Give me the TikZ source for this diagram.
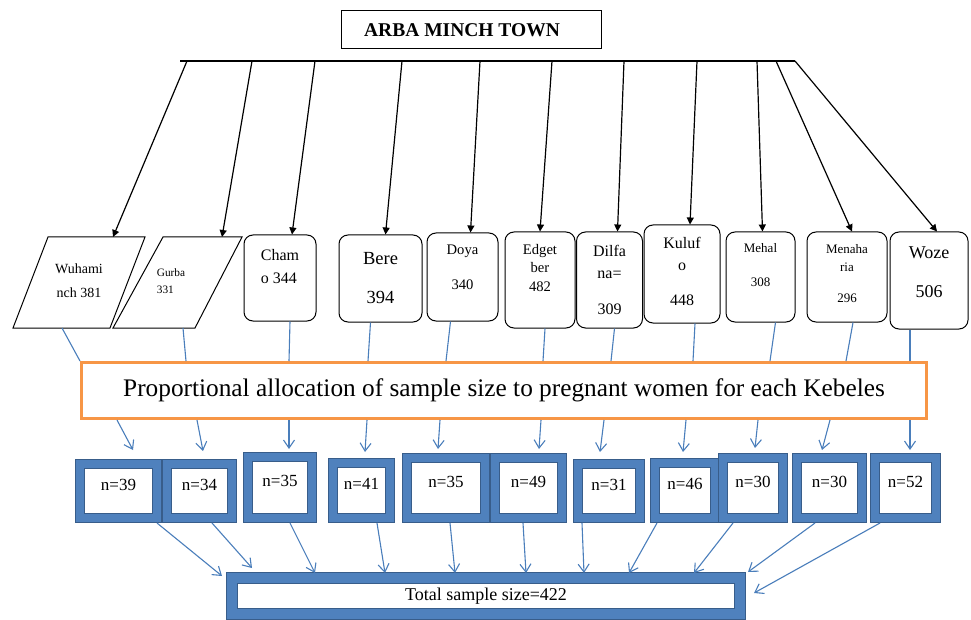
\documentclass[tikz,border=0pt]{standalone}
\usepackage{fontspec}
\setmainfont{Liberation Serif}
\usepackage{tikz}
\usetikzlibrary{positioning, calc, arrows.meta}

\definecolor{kebeleblue}{HTML}{4F81BD}
\definecolor{kebeleedge}{HTML}{385D8A}
\definecolor{linkblue}{HTML}{4A7EBB}
\definecolor{allocorange}{HTML}{F79646}

\begin{document}
\begin{tikzpicture}[
  x=1pt, y=-1pt,
  kebele/.style={
    draw,
    line width=1pt,
    rounded corners=9pt,
    align=center,
    inner sep=2pt,
  },
  slanted/.style={draw, line width=1pt, line join=miter},
  sample/.style={
    draw=kebeleedge,
    line width=1pt,
    double=kebeleblue,
    double distance=8pt,
    fill=white,
    outer sep=5pt,
    font=\fontsize{17}{20}\selectfont,
    text height=12pt,
    text depth=14pt,
  },
  feed/.style={draw=linkblue, line width=1.1pt},
  share/.style={feed, -{Straight Barb[length=8pt,width=11pt]}},
  branch/.style={line width=1.2pt, -{Triangle[length=7pt,width=7pt]}},
]
\useasboundingbox (0,0) rectangle (971,620);

% --- Town ---
\node[draw, line width=1pt, minimum width=260pt, minimum height=38pt,
  font=\fontsize{19.5}{22}\selectfont\bfseries] (Town) at (471,30)
  {ARBA MINCH TOWN\hspace*{18pt}};

% --- Kebeles (slanted) ---
\coordinate (WuhTL) at (48,237);
\coordinate (WuhTR) at (145,237);
\coordinate (WuhBR) at (110,328);
\coordinate (WuhBL) at (13,328);
\draw[slanted] (WuhTL) -- (WuhTR) -- (WuhBR) -- (WuhBL) -- cycle;
\node[align=center, font=\fontsize{14}{24}\selectfont] (Wuhaminch) at (79,281) {Wuhami\\nch 381};

\coordinate (GurTL) at (163,237);
\coordinate (GurTR) at (242,237);
\coordinate (GurBR) at (195,328);
\coordinate (GurBL) at (113,328);
\draw[slanted] (GurTL) -- (GurTR) -- (GurBR) -- (GurBL) -- cycle;
\node[align=left, font=\fontsize{11.3}{17}\selectfont] (Gurba) at (171,281) {Gurba\\331};

% --- Kebeles (rounded) ---
\node[kebele, minimum width=72pt, minimum height=86pt, align=left, text depth=24pt,
  font=\fontsize{16}{23}\selectfont] (Chamo) at (280,278) {Cham\\o 344};
\node[kebele, minimum width=83pt, minimum height=87pt,
  font=\fontsize{18.5}{39}\selectfont] (Bere) at (380.5,278.5) {Bere\\394};
\node[kebele, minimum width=71pt, minimum height=88pt, text depth=19pt,
  font=\fontsize{14.6}{35}\selectfont] (Doya) at (462.5,277) {Doya\\340};
\node[kebele, minimum width=70pt, minimum height=96pt, text depth=25pt,
  font=\fontsize{14.6}{18.5}\selectfont] (Edgetber) at (540,280) {Edget\\ber\\482};
\node[kebele, minimum width=66pt, minimum height=96pt,
  font=\fontsize{16}{22}\selectfont] (Dilfana) at (609.5,280) {Dilfa\\na=\\[14pt]309};
\node[kebele, minimum width=76pt, minimum height=98pt, text depth=5pt,
  font=\fontsize{16}{22}\selectfont] (Kulufo) at (682,274) {Kuluf\\o\\[13pt]448};
\node[kebele, minimum width=69pt, minimum height=90pt, text depth=24pt,
  font=\fontsize{13}{34}\selectfont] (Mehal) at (760.5,277) {Mehal\\308};
\node[kebele, minimum width=80pt, minimum height=90pt, text depth=7pt,
  font=\fontsize{13}{18}\selectfont] (Menaharia) at (847,277) {Menaha\\ria\\[13pt]296};
\node[kebele, minimum width=78pt, minimum height=97pt, text depth=16pt,
  font=\fontsize{18}{39}\selectfont] (Woze) at (929,280.5) {Woze\\506};

% --- Allocation ---
\node[draw=allocorange, line width=3pt, minimum width=845pt, minimum height=56pt,
  font=\fontsize{25.3}{30}\selectfont] (Allocation) at (504,390.5)
  {Proportional allocation of sample size to pregnant women for each Kebeles};

% --- Samples ---
\node[sample, minimum width=77pt, minimum height=54pt] (nWuhaminch) at (118.5,491) {n=39};
\node[sample, minimum width=65pt, minimum height=54pt] (nGurba) at (199.5,491) {n=34};
\node[sample, minimum width=64pt, minimum height=61pt] (nChamo) at (280,487.5) {n=35};
\node[sample, minimum width=57pt, minimum height=55pt] (nBere) at (361.5,490.5) {n=41};
\node[sample, minimum width=78pt, minimum height=60pt] (nDoya) at (446,488) {n=35};
\node[sample, minimum width=67pt, minimum height=60pt] (nEdgetber) at (528.5,488) {n=49};
\node[sample, minimum width=62pt, minimum height=54pt] (nDilfana) at (609,491) {n=31};
\node[sample, minimum width=60pt, minimum height=55pt] (nKulufo) at (685,490.5) {n=46};
\node[sample, minimum width=60pt, minimum height=60pt] (nMehal) at (753,488) {n=30};
\node[sample, minimum width=65pt, minimum height=60pt] (nMenaharia) at (829.5,488) {n=30};
\node[sample, minimum width=61pt, minimum height=60pt] (nWoze) at (905.5,488) {n=52};

% --- Total ---
\node[sample, double distance=10pt, outer sep=6pt, minimum width=508pt, minimum height=36pt,
  font=\fontsize{18}{22}\selectfont, text height=12pt, text depth=4pt] (Total) at (486,596)
  {Total sample size=422};

% Town -> Kebeles
\coordinate (BusStart) at (180,61);
\coordinate (BusEnd) at (795,61);
\coordinate (Tap1) at (187,61);
\coordinate (Tap2) at (252,61);
\coordinate (Tap3) at (315,61);
\coordinate (Tap4) at (402,61);
\coordinate (Tap5) at (480,61);
\coordinate (Tap6) at (552,61);
\coordinate (Tap7) at (624,61);
\coordinate (Tap8) at (697,61);
\coordinate (Tap9) at (757,61);
\coordinate (Tap10) at (776,61);
\coordinate (Tap11) at (795,61);

\draw[line width=1.2pt] (BusStart) -- (BusEnd);
\draw[branch] (Tap1) -- ($(WuhTR)+(-32,0)$);
\draw[branch] (Tap2) -- ($(GurTR)+(-20,0)$);
\draw[branch] (Tap3) -- ($(Chamo.north)+(12,0)$);
\draw[branch] (Tap4) -- ($(Bere.north)+(5,0)$);
\draw[branch] (Tap5) -- ($(Doya.north)+(8,0)$);
\draw[branch] (Tap6) -- (Edgetber.north);
\draw[branch] (Tap7) -- ($(Dilfana.north)+(8,0)$);
\draw[branch] (Tap8) -- ($(Kulufo.north)+(8,0)$);
\draw[branch] (Tap9) -- ($(Mehal.north)+(2,0)$);
\draw[branch] (Tap10) -- ($(Menaharia.north)+(5,0)$);
\draw[branch] (Tap11) -- ($(Woze.north)+(8,0)$);

% Kebeles -> Allocation
\draw[feed] ($(WuhBL)+(49,0)$) -- (Allocation.north west);
\draw[feed] ($(GurBL)+(70,0)$) -- ($(Allocation.north west)+(106,0)$);
\draw[feed] ($(Chamo.south)+(10,0)$) -- ($(Allocation.north west)+(209,0)$);
\draw[feed] ($(Bere.south)+(-10,0)$) -- ($(Allocation.north west)+(288,0)$);
\draw[feed] ($(Doya.south)+(-12,0)$) -- ($(Allocation.north west)+(366,0)$);
\draw[feed] ($(Edgetber.south)+(5,0)$) -- ($(Allocation.north west)+(463,0)$);
\draw[feed] ($(Dilfana.south)+(5,0)$) -- ($(Allocation.north west)+(531,0)$);
\draw[feed] ($(Kulufo.south)+(13,0)$) -- ($(Allocation.north west)+(613,0)$);
\draw[feed] ($(Mehal.south)+(15,0)$) -- ($(Allocation.north west)+(690,0)$);
\draw[feed] ($(Menaharia.south)+(6,0)$) -- ($(Allocation.north west)+(766,0)$);
\draw[feed] ($(Woze.south)+(-19,0)$) -- ($(Allocation.north west)+(830,0)$);

% Allocation -> Samples
\draw[share] ($(Allocation.south west)+(37,0)$) -- ($(nWuhaminch.north)+(14.5,-9)$);
\draw[share] ($(Allocation.south west)+(117,0)$) -- ($(nGurba.north)+(3.5,-8)$);
\draw[share] ($(Allocation.south west)+(209,0)$) -- ($(nChamo.north)+(9,-3)$);
\draw[share] ($(Allocation.south west)+(287,0)$) -- ($(nBere.north)+(3.5,-6)$);
\draw[share] ($(Allocation.south west)+(360,0)$) -- ($(nDoya.north)+(-8,-4)$);
\draw[share] ($(Allocation.south west)+(461,0)$) -- ($(nEdgetber.north)+(10.5,-4)$);
\draw[share] ($(Allocation.south west)+(524,0)$) -- ($(nDilfana.north)+(-9,-7)$);
\draw[share] ($(Allocation.south west)+(606,0)$) -- ($(nKulufo.north)+(-2,-6)$);
\draw[share] ($(Allocation.south west)+(678,0)$) -- ($(nMehal.north)+(2,-5)$);
\draw[share] ($(Allocation.south west)+(750,0)$) -- ($(nMenaharia.north)+(-7.5,-3)$);
\draw[share] ($(Allocation.south west)+(830,0)$) -- ($(nWoze.north)+(4.5,-3)$);

% Samples -> Total
\draw[share] ($(nWuhaminch.south)+(38.5,0)$) -- ($(Total.north west)+(-4,4)$);
\draw[share] ($(nGurba.south)+(12.5,0)$) -- ($(Total.north west)+(26,-4)$);
\draw[share] ($(nChamo.south)+(10,0)$) -- ($(Total.north west)+(89,1)$);
\draw[share] ($(nBere.south)+(15.5,0)$) -- ($(Total.north west)+(159,1)$);
\draw[share] ($(nDoya.south)+(4,0)$) -- ($(Total.north west)+(229,1)$);
\draw[share] ($(nEdgetber.south)+(-5.5,0)$) -- ($(Total.north west)+(300,1)$);
\draw[share] ($(nDilfana.south)+(-27,0)$) -- ($(Total.north west)+(358,1)$);
\draw[share] ($(nKulufo.south)+(-28,0)$) -- ($(Total.north west)+(403,1)$);
\draw[share] ($(nMehal.south)+(-20,0)$) -- ($(Total.north west)+(468,1)$);
\draw[share] ($(nMenaharia.south)+(-14.5,0)$) -- ($(Total.north east)+(2,0)$);
\draw[share] ($(nWoze.south)+(-25.5,0)$) -- ($(Total.east)+(8,-3)$);

\end{tikzpicture}
\end{document}
